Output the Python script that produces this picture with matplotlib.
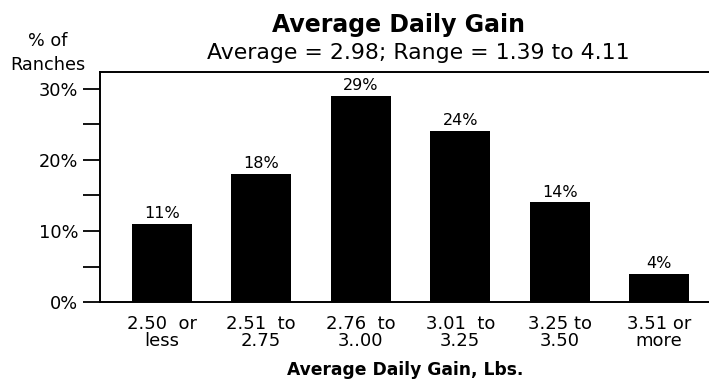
import matplotlib.pyplot as plt
from matplotlib.ticker import MultipleLocator, FuncFormatter

plt.rcParams['font.family'] = ['DejaVu Sans']

# Distribution of ranches by average daily gain
categories = ["2.50  or\nless", "2.51  to\n2.75", "2.76  to\n3..00",
              "3.01  to\n3.25", "3.25 to\n3.50", "3.51 or\nmore"]
pct_ranches = [11, 18, 29, 24, 14, 4]

fig = plt.figure(figsize=(7.09, 3.8), dpi=100)
ax = fig.add_axes([0.141, 0.205, 0.859, 0.605])

x = range(len(categories))
bars = ax.bar(x, pct_ranches, width=0.6, color='black')

# value labels above each bar
for rect, v in zip(bars, pct_ranches):
    ax.text(rect.get_x() + rect.get_width() / 2, v + 0.4, f"{v}%",
            ha='center', va='bottom', fontsize=11.5)

ax.set_xlim(-0.62, 5.5)
ax.set_ylim(0, 32.3)
ax.yaxis.set_major_locator(MultipleLocator(10))
ax.yaxis.set_minor_locator(MultipleLocator(5))
ax.yaxis.set_major_formatter(FuncFormatter(lambda v, p: f"{v:.0f}%"))
ax.tick_params(axis='y', which='both', direction='out', length=12,
               width=1.3, labelsize=12.8, pad=3.5)
ax.set_xticks(list(x))
ax.set_xticklabels(categories, fontsize=13, linespacing=0.95)
ax.tick_params(axis='x', length=0, pad=9)

ax.spines['right'].set_visible(False)
for s in ('left', 'top', 'bottom'):
    ax.spines[s].set_linewidth(1.4)

fig.text(0.572, 0.013, "Average Daily Gain, Lbs.", ha='center',
         va='baseline', fontsize=12.3, fontweight='bold')

fig.text(0.562, 0.916, "Average Daily Gain", ha='center', va='baseline',
         fontsize=17, fontweight='bold')
fig.text(0.59, 0.845, "Average = 2.98; Range = 1.39 to 4.11", ha='center',
         va='baseline', fontsize=15.8)
fig.text(0.067, 0.879, "% of", ha='center', va='baseline', fontsize=12.7)
fig.text(0.067, 0.816, "Ranches", ha='center', va='baseline', fontsize=12.7)

plt.savefig("out.png", dpi=100)
